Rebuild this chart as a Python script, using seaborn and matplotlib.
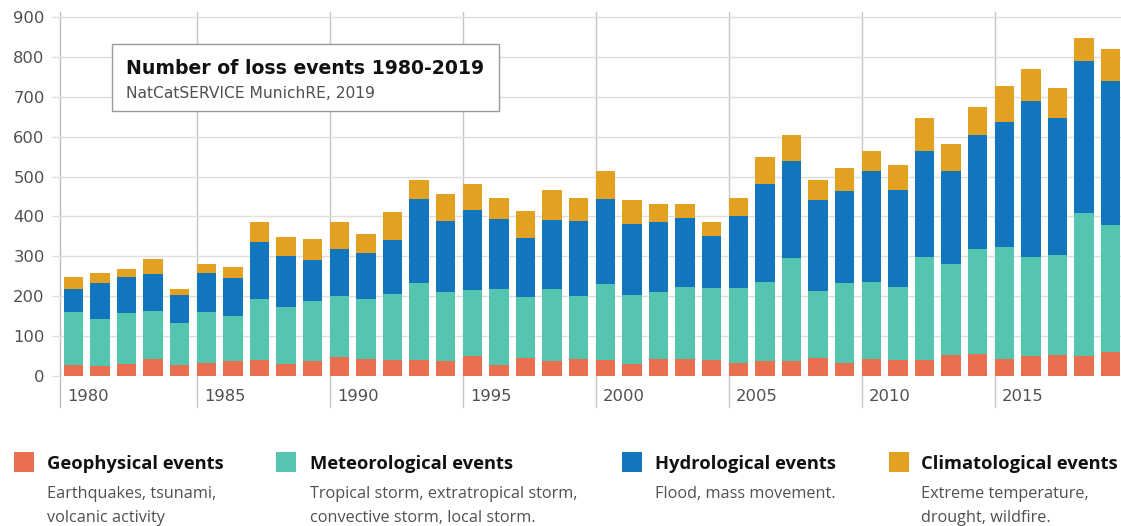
import numpy as np
import pandas as pd
import matplotlib.pyplot as plt
import seaborn as sns
from matplotlib.patches import Rectangle

# data (top of each coloured segment, then converted to counts)
years = list(range(1980, 2020))
geophysical = [27, 24, 31, 43, 28, 32, 37, 39, 30, 38, 48, 42, 39, 39, 38, 49, 28, 46, 37, 43,
               40, 30, 42, 42, 41, 33, 38, 38, 45, 32, 43, 41, 40, 53, 55, 42, 50, 53, 49, 60]
meteorological = [134, 120, 127, 119, 104, 128, 114, 153, 143, 149, 153, 151, 166, 195, 172, 166, 191, 151, 182, 158,
                  191, 172, 168, 182, 180, 188, 198, 258, 167, 201, 192, 183, 259, 227, 264, 282, 249, 251, 359, 319]
hydrological = [58, 89, 90, 93, 71, 97, 94, 144, 127, 105, 118, 116, 135, 209, 178, 202, 175, 150, 173, 187,
                212, 179, 176, 172, 130, 180, 246, 242, 229, 230, 280, 243, 264, 234, 284, 312, 390, 342, 382, 361]
climatological = [29, 24, 21, 39, 16, 25, 27, 49, 49, 51, 68, 46, 71, 48, 69, 64, 52, 66, 75, 57,
                  71, 61, 44, 36, 34, 46, 67, 65, 50, 58, 48, 62, 84, 68, 72, 91, 81, 76, 58, 80]

categories = ['Geophysical events', 'Meteorological events', 'Hydrological events', 'Climatological events']
descriptions = [['Earthquakes, tsunami,', 'volcanic activity'],
                ['Tropical storm, extratropical storm,', 'convective storm, local storm.'],
                ['Flood, mass movement.'],
                ['Extreme temperature,', 'drought, wildfire.']]
colors = ['#E8704F', '#55C5B0', '#1176BE', '#E3A122']

title = 'Number of loss events 1980-2019'
subtitle = 'NatCatSERVICE MunichRE, 2019'

df = pd.DataFrame({'year': [str(y) for y in years],
                   'geo': geophysical, 'met': meteorological,
                   'hyd': hydrological, 'cli': climatological})
df['c1'] = df['geo']
df['c2'] = df['c1'] + df['met']
df['c3'] = df['c2'] + df['hyd']
df['c4'] = df['c3'] + df['cli']

sns.set_theme(style='white')
plt.rcParams['font.family'] = ['Open Sans', 'DejaVu Sans']

W, H = 1121, 526
fig = plt.figure(figsize=(W / 100, H / 100), dpi=100)
# axes placed in pixel terms: left spine at x=60, zero line at y=376
ax = fig.add_axes([60 / W, (H - 376) / H, 1061 / W, 364 / H])

bar_w = 0.73
for col, c in zip(['c4', 'c3', 'c2', 'c1'], colors[::-1]):
    sns.barplot(data=df, x='year', y=col, color=c, saturation=1, width=bar_w,
                errorbar=None, linewidth=0, ax=ax)

ax.set_xlim(-0.5, 39.39)
ax.set_ylim(0, 912.5)
ax.set_yticks(range(0, 901, 100))
ax.yaxis.grid(True, color='#dedede', linewidth=1)
ax.set_axisbelow(True)
ax.tick_params(axis='y', left=True, length=6, color='#dedede', width=1, pad=5,
               labelsize=11.8, labelcolor='#505050')
for lab in ax.get_yticklabels():
    lab.set_family('DejaVu Sans')
ax.set_xticks([])
ax.set_xlabel('')
ax.set_ylabel('')
for s in ['top', 'right', 'bottom', 'left']:
    ax.spines[s].set_visible(False)

# separators every five years, running down past the axis to the labels
xt = ax.get_xaxis_transform()
ax.axvline(-0.5, ymin=-0.085, ymax=1, color='#bdbdbd', linewidth=1, clip_on=False, zorder=0.5)
ax.text(-0.5 + 0.28, -0.057, '1980', transform=xt, family='DejaVu Sans',
        ha='left', va='center', fontsize=11.8, color='#505050')
for i in range(5, 40, 5):
    xl = i - bar_w / 2
    ax.axvline(xl, ymin=-0.085, ymax=1, color='#c6c6c6', linewidth=1, clip_on=False, zorder=0.5)
    ax.text(xl + 0.28, -0.057, str(years[i]), transform=xt, family='DejaVu Sans',
            ha='left', va='center', fontsize=11.8, color='#505050')

# title box
fig.patches.append(Rectangle((112 / W, 1 - 111 / H), (499 - 112) / W, (111 - 44) / H,
                             transform=fig.transFigure, facecolor='white',
                             edgecolor='#9a9a9a', linewidth=1, zorder=5))
fig.text(126 / W, 1 - 68 / H, title, fontsize=13.6, fontweight='bold', color='#111111',
         family='DejaVu Sans', ha='left', va='center', zorder=6)
fig.text(126 / W, 1 - 93 / H, subtitle, fontsize=11.2, color='#505050',
         family='DejaVu Sans', ha='left', va='center', zorder=6)

# legend below the chart
sq_x = [14, 276, 622, 889]
txt_x = [47, 310, 655, 921]
for sx, tx, name, desc, c in zip(sq_x, txt_x, categories, descriptions, colors):
    fig.patches.append(Rectangle((sx / W, 1 - 472 / H), 20 / W, 20 / H,
                                 transform=fig.transFigure, facecolor=c, edgecolor='none'))
    fig.text(tx / W, 1 - 464 / H, name, fontsize=13.2, fontweight='bold', color='#111111',
             ha='left', va='center')
    for k, line in enumerate(desc):
        fig.text(tx / W, 1 - (494 + 24 * k) / H, line, fontsize=11.7, color='#505050',
                 ha='left', va='center')

fig.savefig('out.png', dpi=100, facecolor='white')
